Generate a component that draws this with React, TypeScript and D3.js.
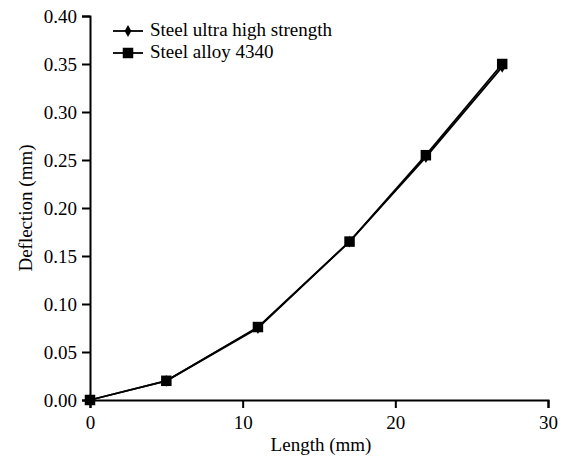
import React, { useEffect, useRef } from 'react';
import * as d3 from 'd3';

const lengths = [0, 5, 11, 17, 22, 27];
const ultraHigh = [0, 0.02, 0.075, 0.165, 0.253, 0.347];
const alloy4340 = [0, 0.02, 0.076, 0.165, 0.255, 0.35];
const xTicks = [0, 10, 20, 30];
const yTicks = [0, 0.05, 0.1, 0.15, 0.2, 0.25, 0.3, 0.35, 0.4];
const seriesNames = ['Steel ultra high strength', 'Steel alloy 4340'];

const W = 563;
const H = 457;
const FONT = '"Liberation Serif", "Times New Roman", serif';

const App = () => {
  const ref = useRef<SVGSVGElement>(null);

  useEffect(() => {
    const svg = d3.select(ref.current);
    svg.selectAll('*').remove();

    const x = d3.scaleLinear().domain([0, 30]).range([90, 548]);
    const y = d3.scaleLinear().domain([0, 0.4]).range([400, 16]);

    const xAxis = svg.append('g')
      .attr('transform', `translate(0,${y(0)})`)
      .call(d3.axisBottom(x).tickValues(xTicks).tickSize(8).tickPadding(8).tickFormat(d3.format('d')));
    const yAxis = svg.append('g')
      .attr('transform', `translate(${x(0)},0)`)
      .call(d3.axisLeft(y).tickValues(yTicks).tickSize(8).tickPadding(5).tickFormat(d3.format('.2f')));

    [xAxis, yAxis].forEach(a => {
      a.attr('font-family', FONT).attr('font-size', 19);
      a.select('.domain').attr('stroke', '#000').attr('stroke-width', 2);
      a.selectAll('.tick line').attr('stroke', '#000').attr('stroke-width', 2);
      a.selectAll('.tick text').attr('fill', '#000');
    });

    svg.append('text')
      .attr('x', x(15) + 2)
      .attr('y', 451)
      .attr('text-anchor', 'middle')
      .text('Length (mm)');

    svg.append('text')
      .attr('transform', `translate(32,${y(0.2)}) rotate(-90)`)
      .attr('text-anchor', 'middle')
      .text('Deflection (mm)');

    const line = d3.line<number>()
      .x((_, i) => x(lengths[i]))
      .y(d => y(d));

    const diamond = d3.symbol().type(d3.symbolDiamond).size(40);
    const square = d3.symbol().type(d3.symbolSquare).size(110);

    const series = [
      { values: ultraHigh, shape: diamond },
      { values: alloy4340, shape: square },
    ];

    // squares drawn last so they sit on top of the diamonds, as in the source
    series.forEach(s => {
      svg.append('path')
        .attr('d', line(s.values))
        .attr('fill', 'none')
        .attr('stroke', '#000')
        .attr('stroke-width', 1.8);
      svg.selectAll(null)
        .data(s.values)
        .enter()
        .append('path')
        .attr('d', s.shape())
        .attr('transform', (d, i) => `translate(${x(lengths[i])},${y(d)})`)
        .attr('fill', '#000');
    });

    const legend = svg.append('g').attr('transform', 'translate(113,31)');
    seriesNames.forEach((name, i) => {
      const row = legend.append('g').attr('transform', `translate(0,${i * 22})`);
      row.append('line')
        .attr('x1', 0).attr('x2', 30)
        .attr('stroke', '#000').attr('stroke-width', 1.8);
      row.append('path')
        .attr('d', series[i].shape())
        .attr('transform', 'translate(15,0)')
        .attr('fill', '#000');
      row.append('text')
        .attr('x', 37)
        .attr('y', 5)
        .text(name);
    });
  }, []);

  return (
    <svg
      ref={ref}
      width={W}
      height={H}
      fontFamily={FONT}
      fontSize={19}
      style={{ position: 'fixed', left: 0, top: 0, background: '#fff' }}
    />
  );
};

export default App;
